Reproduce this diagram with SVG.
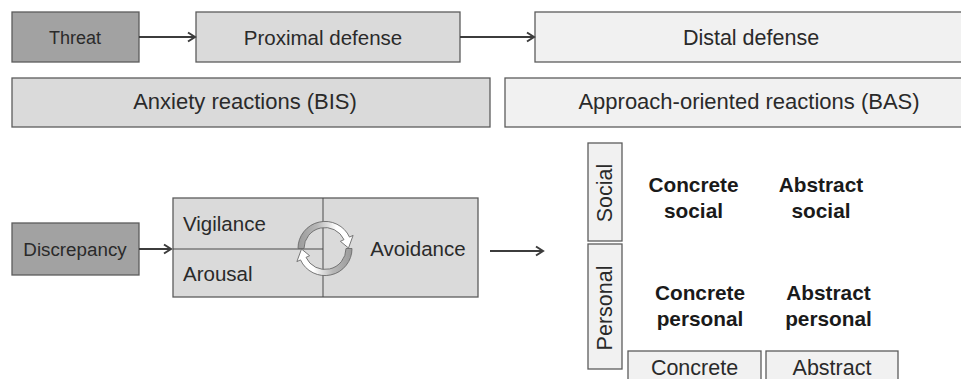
<svg xmlns="http://www.w3.org/2000/svg" width="961" height="379" viewBox="0 0 961 379">
<style>
.box{stroke:#5c5c5c;stroke-width:1.3}
.dark{fill:#a2a2a2}
.mid{fill:#dadada}
.light{fill:#f1f1f1}
.t{font-family:"Liberation Sans",Arial,sans-serif;fill:#2a2a2a;text-anchor:middle}
.tl{font-family:"Liberation Sans",Arial,sans-serif;fill:#2a2a2a}
.b{font-family:"Liberation Sans",Arial,sans-serif;font-weight:bold;fill:#1a1a1a;text-anchor:middle;font-size:20.8px}
.conn{stroke:#3c3c3c;stroke-width:2;fill:none;marker-end:url(#ah)}
.div{stroke:#4a4a4a;stroke-width:1;fill:none}
.cyc{fill:url(#cg);stroke:#6a6a6a;stroke-width:0.9}
</style>
<defs>
<marker id="ah" markerWidth="12" markerHeight="12" refX="9" refY="6" orient="auto" markerUnits="userSpaceOnUse">
<path d="M2,1.5 L9,6 L2,10.5" fill="none" stroke="#3c3c3c" stroke-width="2"/>
</marker>
<linearGradient id="cg" x1="0" y1="0" x2="1" y2="0">
<stop offset="0" stop-color="#9a9a9a"/>
<stop offset="0.35" stop-color="#b8b8b8"/>
<stop offset="0.7" stop-color="#ffffff"/>
<stop offset="1" stop-color="#ffffff"/>
</linearGradient>
<path id="cycarrow" d="M298,248.5 A27,27 0 0 1 349.5,237.1 L353.1,235.4 L348.5,248 L340.4,241.3 L344,239.6 A21,21 0 0 0 304,248.5 Z"/>
</defs>

<g id="threat">
<rect class="box dark" x="12" y="12" width="127" height="50"/>
<text class="t" x="75" y="44" font-size="18">Threat</text>
</g>
<g id="proximal">
<rect class="box mid" x="196" y="12" width="264" height="50"/>
<text class="t" x="323" y="45" font-size="20.5">Proximal defense</text>
</g>
<g id="distal">
<rect class="box light" x="535" y="12" width="440" height="50"/>
<text class="t" x="751" y="45" font-size="21.5">Distal defense</text>
</g>
<g id="bis">
<rect class="box mid" x="12" y="78" width="478" height="49"/>
<text class="t" x="245" y="109" font-size="22">Anxiety reactions (BIS)</text>
</g>
<g id="bas">
<rect class="box light" x="505" y="78" width="470" height="49"/>
<text class="t" x="749" y="109" font-size="22">Approach-oriented reactions (BAS)</text>
</g>
<g id="discrepancy">
<rect class="box dark" x="12" y="223" width="127" height="52"/>
<text class="t" x="75" y="255.5" font-size="18.8">Discrepancy</text>
</g>
<g id="bis-process">
<rect class="box mid" x="173" y="198" width="305" height="99"/>
<line class="div" x1="323" y1="198" x2="323" y2="297"/>
<line class="div" x1="173" y1="249" x2="323" y2="249"/>
<text class="tl" x="183" y="230.5" font-size="20.5">Vigilance</text>
<text class="tl" x="183" y="280.5" font-size="20.5">Arousal</text>
<text class="t" x="418" y="255.5" font-size="20.5">Avoidance</text>
<use href="#cycarrow" class="cyc"/>
<use href="#cycarrow" class="cyc" transform="rotate(180 325 248.5)"/>
</g>
<g id="social">
<rect class="box light" x="588" y="143" width="34" height="98"/>
<text class="t" transform="translate(612 193) rotate(-90)" font-size="21.5">Social</text>
</g>
<g id="personal">
<rect class="box light" x="588" y="244" width="34" height="125"/>
<text class="t" transform="translate(612 308) rotate(-90)" font-size="21.5">Personal</text>
</g>
<g id="concrete">
<rect class="box light" x="628" y="351" width="133" height="40"/>
<text class="t" x="694.5" y="375" font-size="21.5">Concrete</text>
</g>
<g id="abstract">
<rect class="box light" x="766" y="351" width="132" height="40"/>
<text class="t" x="832" y="375" font-size="21.5">Abstract</text>
</g>
<g id="concrete-social">
<text class="b" x="693.5" y="192">Concrete</text>
<text class="b" x="693.5" y="218">social</text>
</g>
<g id="abstract-social">
<text class="b" x="821" y="192">Abstract</text>
<text class="b" x="821" y="218">social</text>
</g>
<g id="concrete-personal">
<text class="b" x="700" y="300">Concrete</text>
<text class="b" x="700" y="326">personal</text>
</g>
<g id="abstract-personal">
<text class="b" x="828.5" y="300">Abstract</text>
<text class="b" x="828.5" y="326">personal</text>
</g>

<g id="connectors">
<line class="conn" x1="139" y1="37" x2="195" y2="37"/>
<line class="conn" x1="460" y1="37" x2="534" y2="37"/>
<line class="conn" x1="139" y1="249" x2="171" y2="249"/>
<line class="conn" x1="490" y1="251" x2="543" y2="251"/>
</g>
</svg>
